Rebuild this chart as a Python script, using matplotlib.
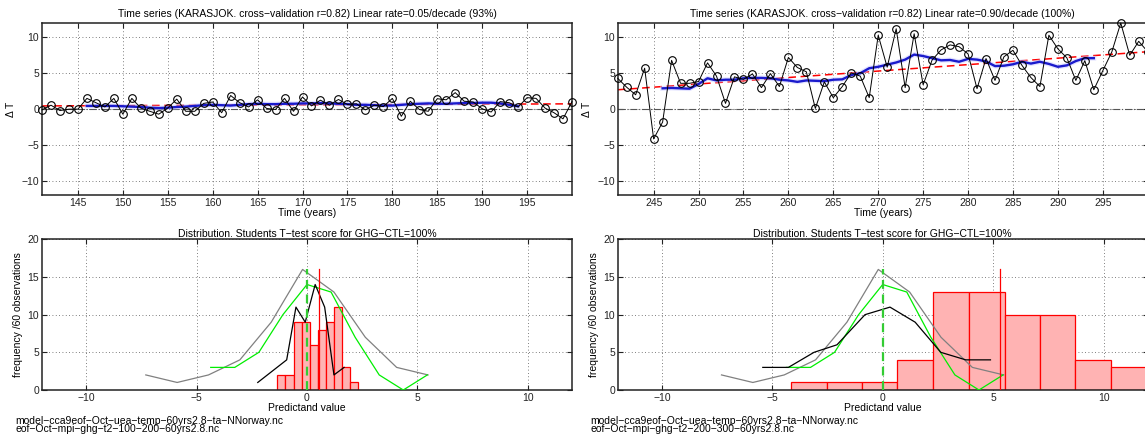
import numpy as np
import matplotlib
matplotlib.use("Agg")
import matplotlib.pyplot as plt

plt.rcParams['font.family'] = ['Liberation Sans', 'DejaVu Sans']
plt.rcParams['font.size'] = 7.5
plt.rcParams['axes.unicode_minus'] = True

# ---- time series ----
years_a = list(range(141, 201))
dT_a = [-0.1, 0.55, -0.2, 0.0, 0.0, 1.5, 0.9, 0.3, 1.5, -0.7,
        1.5, 0.15, -0.3, -0.7, 0.15, 1.4, -0.3, -0.3, 0.8, 1.0,
        -0.5, 1.9, 0.9, 0.3, 1.3, 0.1, -0.05, 1.5, -0.3, 1.7,
        0.45, 1.25, 0.55, 1.35, 0.65, 0.75, -0.1, 0.55, 0.35, 1.5,
        -1.0, 1.1, -0.05, -0.3, 1.45, 1.3, 2.3, 1.1, 1.0, 0.05,
        -0.4, 1.05, 0.9, 0.3, 1.6, 1.5, 0.15, -0.5, -1.35, 1.05]
smooth_years_a = list(range(146, 195))
smooth_a = [0.45, 0.45, 0.45, 0.45, 0.4, 0.35, 0.3, 0.2, 0.15, 0.2,
            0.3, 0.35, 0.45, 0.55, 0.6, 0.55, 0.5, 0.6, 0.7, 0.75,
            0.7, 0.7, 0.75, 0.75, 0.8, 0.8, 0.85, 0.8, 0.75, 0.7,
            0.6, 0.6, 0.55, 0.5, 0.5, 0.6, 0.7, 0.75, 0.8, 0.75,
            0.75, 0.8, 0.85, 0.85, 0.9, 0.9, 0.8, 0.6, 0.4]
trend_a = [0.45, 0.74]

years_b = list(range(241, 301))
dT_b = [4.3, 3.05, 2.0, 5.7, -4.15, -1.8, 6.8, 3.6, 3.6, 3.85,
        6.45, 4.6, 0.8, 4.5, 4.15, 4.9, 3.0, 4.95, 3.15, 7.2,
        5.8, 5.2, 0.1, 3.8, 1.6, 3.15, 5.05, 4.6, 1.6, 10.3,
        5.85, 11.2, 3.0, 10.5, 3.4, 6.85, 8.25, 8.95, 8.7, 7.7,
        2.85, 7.05, 4.0, 7.3, 8.2, 6.1, 4.4, 3.15, 10.3, 8.4,
        7.15, 4.0, 6.75, 2.7, 5.35, 7.95, 12.0, 7.5, 9.45, 8.0]
smooth_years_b = list(range(246, 295))
smooth_b = [2.9, 2.95, 2.9, 2.85, 3.5, 4.3, 4.0, 4.1, 4.1, 4.3,
            4.35, 4.35, 4.3, 4.1, 4.0, 3.8, 4.0, 3.95, 3.9, 4.1,
            4.15, 4.75, 5.0, 5.7, 5.9, 6.2, 6.5, 6.9, 7.6, 7.4,
            7.1, 6.8, 6.85, 6.6, 7.0, 6.9, 6.65, 6.0, 6.05, 6.25,
            6.6, 6.35, 6.6, 6.3, 5.9, 6.1, 6.7, 7.1, 7.1]
trend_b = [2.7, 8.0]

# ---- distributions ----
hist_edges_a = [-1.34, -0.975, -0.61, -0.24, 0.12, 0.49, 0.86, 1.22, 1.59, 1.95, 2.32]
hist_counts_a = [2, 2, 9, 9, 6, 8, 9, 11, 3, 1]
mean_a = 0.55
hist_edges_b = [-4.14, -2.53, -0.92, 0.66, 2.27, 3.89, 5.52, 7.12, 8.73, 10.35, 11.97]
hist_counts_b = [1, 1, 1, 4, 13, 13, 10, 10, 4, 3]
mean_b = 5.3

gray_x = [-7.3, -5.88, -4.46, -3.04, -1.62, -0.2, 1.22, 2.64, 4.06, 5.48]
gray_y = [2, 1, 2, 4, 9, 16, 13, 7, 3, 2]
green_x = [-4.36, -3.27, -2.18, -1.09, 0.0, 1.09, 2.18, 3.27, 4.36, 5.45]
green_y = [3, 3, 5, 10, 14, 13, 7, 2, 0, 2]
black_x_a = [-2.23, -0.92, -0.5, -0.08, 0.37, 0.8, 1.22, 1.68]
black_y_a = [1, 4, 11, 9, 14, 11, 2, 3]
black_x_b = [-5.43, -4.27, -3.11, -2.07, -0.8, 0.33, 1.47, 2.63, 3.76, 4.88]
black_y_b = [3, 3, 5, 6, 10, 11, 9, 5, 4, 4]

titles_top = ["Time series (KARASJOK. cross\u2212validation r=0.82) Linear rate=0.05/decade (93%)",
              "Time series (KARASJOK. cross\u2212validation r=0.82) Linear rate=0.90/decade (100%)"]
title_bot = "Distribution. Students T\u2212test score for GHG\u2212CTL=100%"
files = [["model\u2212cca9eof\u2212Oct\u2212uea\u2212temp\u221260yrs2.8\u2212ta\u2212NNorway.nc",
          "eof\u2212Oct\u2212mpi\u2212ghg\u2212t2\u2212100\u2212200\u221260yrs2.8.nc"],
         ["model\u2212cca9eof\u2212Oct\u2212uea\u2212temp\u221260yrs2.8\u2212ta\u2212NNorway.nc",
          "eof\u2212Oct\u2212mpi\u2212ghg\u2212t2\u2212200\u2212300\u221260yrs2.8.nc"]]

W, H = 1145, 438
fig = plt.figure(figsize=(W / 100, H / 100), dpi=100)


def box(x0, y0, x1, y1):
    return [x0 / W, 1 - y1 / H, (x1 - x0) / W, (y1 - y0) / H]


def style(ax):
    for s in ax.spines.values():
        s.set_linewidth(1.1)
        s.set_color('#222222')
    ax.tick_params(direction='in', length=3.5, width=0.8, top=True, right=True,
                   labelsize=7.5, pad=2, colors='#222222')
    ax.grid(True, linestyle=(0, (1, 3)), color='#555555', linewidth=0.6)
    ax.set_axisbelow(True)


lefts = [42, 617.7]
series = [(years_a, dT_a, smooth_years_a, smooth_a, trend_a),
          (years_b, dT_b, smooth_years_b, smooth_b, trend_b)]
dists = [(hist_edges_a, hist_counts_a, mean_a, black_x_a, black_y_a),
         (hist_edges_b, hist_counts_b, mean_b, black_x_b, black_y_b)]

for i in range(2):
    x0 = lefts[i]
    yrs, vals, syrs, svals, tr = series[i]

    ax = fig.add_axes(box(x0, 23, x0 + 530, 195.3))
    style(ax)
    ax.axhline(0, color='#555555', linestyle='-.', linewidth=0.8, zorder=1)
    ax.plot([yrs[0], yrs[-1]], tr, color='red', linestyle='--', dashes=(5, 3), linewidth=1.1, zorder=2)
    ax.plot(syrs, svals, color='#c8c8ff', linewidth=3.5, alpha=0.5, zorder=3)
    ax.plot(syrs, svals, color='#1a1acc', linewidth=1.7, zorder=4)
    ax.plot(yrs, vals, color='black', linewidth=0.7, marker='o', markersize=5.5,
            markerfacecolor='none', markeredgewidth=0.8, clip_on=False, zorder=5)
    ax.set_xlim(yrs[0], yrs[-1])
    ax.set_ylim(-12, 12)
    ax.set_xticks(range(yrs[0] + 4, yrs[-1], 5))
    ax.set_yticks([-10, -5, 0, 5, 10])
    ax.set_title(titles_top[i], fontsize=7.5, pad=4)
    ax.set_xlabel("Time (years)", fontsize=7.5, labelpad=0)
    ax.set_ylabel("\u0394 T", fontsize=7.5, labelpad=4)

    edges, counts, mu, bx, by = dists[i]
    axb = fig.add_axes(box(x0, 239.3, x0 + 530, 390))
    style(axb)
    widths = np.diff(edges)
    axb.bar(edges[:-1], counts, width=widths, align='edge', facecolor='#ffb3b3',
            edgecolor='red', linewidth=0.9, zorder=2)
    axb.plot(gray_x, gray_y, color='#808080', linewidth=0.9, zorder=3)
    axb.plot(green_x, green_y, color='#00ee00', linewidth=0.9, zorder=4)
    axb.plot(bx, by, color='black', linewidth=0.9, zorder=5)
    axb.plot([0, 0], [0, 16], color='#33cc33', linestyle='--', dashes=(4, 2.5), linewidth=1.6, zorder=6)
    axb.plot([mu, mu], [0, 16], color='red', linewidth=0.9, zorder=6)
    axb.set_xlim(-12, 12)
    axb.set_ylim(0, 20)
    axb.set_xticks([-10, -5, 0, 5, 10])
    axb.set_yticks([0, 5, 10, 15, 20])
    axb.set_title(title_bot, fontsize=7.5, pad=2)
    axb.set_xlabel("Predictand value", fontsize=7.5, labelpad=0)
    axb.set_ylabel("frequency /60 observations", fontsize=7.5, labelpad=3)

    fig.text((x0 - 27) / W, 1 - 421 / H, files[i][0], fontsize=7.5, va='center', ha='left')
    fig.text((x0 - 27) / W, 1 - 429.5 / H, files[i][1], fontsize=7.5, va='center', ha='left')

fig.savefig("out.png", dpi=100)
